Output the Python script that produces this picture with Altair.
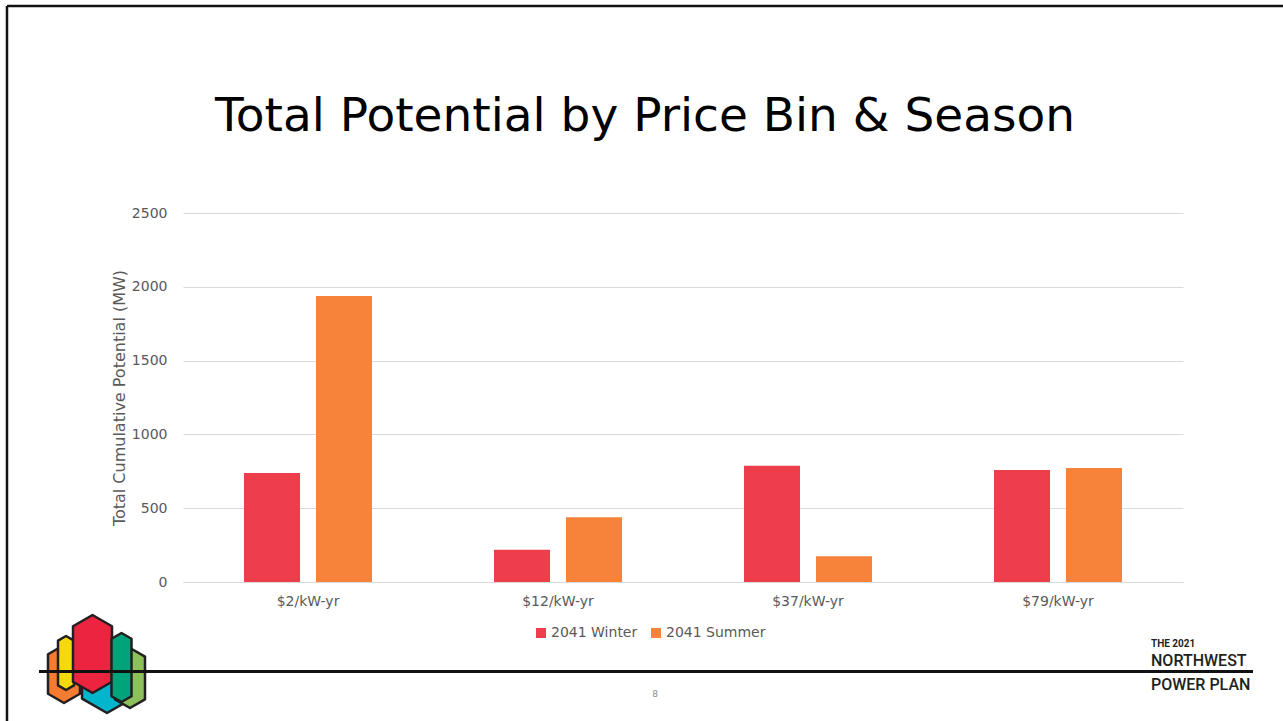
import altair as alt
import pandas as pd

# ---- data ----
categories = ["$2/kW-yr", "$12/kW-yr", "$37/kW-yr", "$79/kW-yr"]
seasons = ["2041 Winter", "2041 Summer"]
winter = [739, 219, 788, 758]
summer = [1938, 439, 175, 772]
season_colors = ["#EF3E4B", "#F7823A"]
y_ticks = [0, 500, 1000, 1500, 2000, 2500]

title_text = "Total Potential by Price Bin & Season"
y_title = "Total Cumulative Potential (MW)"

rows = []
for c, w, s in zip(categories, winter, summer):
    rows.append({"bin": c, "season": seasons[0], "mw": w})
    rows.append({"bin": c, "season": seasons[1], "mw": s})
df = pd.DataFrame(rows)

OX, OY = 183, 213  # plot-area origin on the page
W, H = 1000, 369
FONT = "DejaVu Sans"
GRAY = "#595959"

bars = alt.Chart(df).mark_bar().encode(
    x=alt.X("bin:N", sort=categories,
            scale=alt.Scale(paddingInner=0, paddingOuter=0),
            axis=alt.Axis(title=None, labelAngle=0, ticks=False, labelPadding=12,
                          domainColor="#D9D9D9", grid=False, labelFont=FONT,
                          labelFontSize=14, labelColor=GRAY)),
    xOffset=alt.XOffset("season:N", sort=seasons,
                        scale=alt.Scale(paddingInner=0.222, paddingOuter=0.847)),
    y=alt.Y("mw:Q", scale=alt.Scale(domain=[0, 2500], nice=False),
            axis=alt.Axis(values=y_ticks, format="d", title=y_title, ticks=False,
                          domain=False, gridColor="#D9D9D9", labelPadding=16,
                          labelFont=FONT, labelFontSize=14, labelColor=GRAY,
                          titleFont=FONT, titleFontSize=16, titleFontWeight="normal",
                          titleColor=GRAY, titlePadding=4)),
    color=alt.Color("season:N", sort=seasons,
                    scale=alt.Scale(domain=seasons, range=season_colors),
                    legend=alt.Legend(title=None, orient="none", legendX=351,
                                      legendY=413, direction="horizontal",
                                      symbolType="square", symbolSize=100,
                                      symbolStrokeWidth=0, labelFont=FONT,
                                      labelFontSize=14, labelColor=GRAY,
                                      labelOffset=3, columnPadding=11)),
)

one = pd.DataFrame({"k": [0]})


def rule(x1, y1, x2=None, y2=None, width=2.5, color="#111111"):
    enc = {"x": alt.value(x1 - OX), "y": alt.value(y1 - OY)}
    if x2 is not None:
        enc["x2"] = alt.value(x2 - OX)
    if y2 is not None:
        enc["y2"] = alt.value(y2 - OY)
    return alt.Chart(one).mark_rule(color=color, strokeWidth=width).encode(**enc)


def text(t, x, y, size, color="#000000", weight="normal", align="center", font=FONT):
    return alt.Chart(one).mark_text(text=t, fontSize=size, color=color, fontWeight=weight,
                                    align=align, baseline="alphabetic", font=font).encode(
        x=alt.value(x - OX), y=alt.value(y - OY))


def hexagon(cx, top, bottom, width, fill):
    h = bottom - top
    w = width / h
    a = w * 0.577
    path = (f"M0,-1 L{w:.3f},{-1 + a:.3f} L{w:.3f},{1 - a:.3f} L0,1 "
            f"L{-w:.3f},{1 - a:.3f} L{-w:.3f},{-1 + a:.3f} Z")
    return alt.Chart(one).mark_point(shape=path, filled=True, fill=fill, opacity=1,
                                     stroke="#231F20", strokeWidth=2.5,
                                     strokeJoin="round").encode(
        x=alt.value(cx - OX), y=alt.value((top + bottom) / 2 - OY),
        size=alt.value(h * h))


logo = [
    hexagon(64, 645, 703, 32, "#F47B30"),
    hexagon(66, 636, 690, 16, "#F5D90A"),
    hexagon(107, 640, 713, 50, "#00B5CC"),
    hexagon(92.5, 615, 693, 39, "#EC2440"),
    hexagon(130, 648, 708, 30, "#8DC05A"),
    hexagon(121.5, 633, 702, 20, "#00A37A"),
]

decor = [
    rule(7, 6, x2=1283),           # top frame
    rule(7, 6, y2=721),            # left frame
    text(title_text, 645, 131, 47),
    text("8", 655, 697, 9, color="#8C8C8C"),
    text("THE 2021", 1151, 647, 10, color="#231F20", weight="bold", align="left", font="Roboto"),
    text("NORTHWEST", 1151, 666, 16, color="#231F20", weight=500, align="left", font="Roboto"),
    text("POWER PLAN", 1151, 690, 16, color="#231F20", weight=500, align="left", font="Roboto"),
] + logo + [
    rule(39, 671.5, x2=1253, width=3),  # footer line
]

chart = alt.layer(bars, *decor).properties(
    width=W, height=H,
    padding={"left": OX, "top": OY, "right": 1283 - OX - W, "bottom": 721 - OY - H},
    autosize=alt.AutoSizeParams(type="none"),
    background="white",
).configure_view(stroke=None)

chart.save("out.html", embed_options={"renderer": "svg", "actions": False})
